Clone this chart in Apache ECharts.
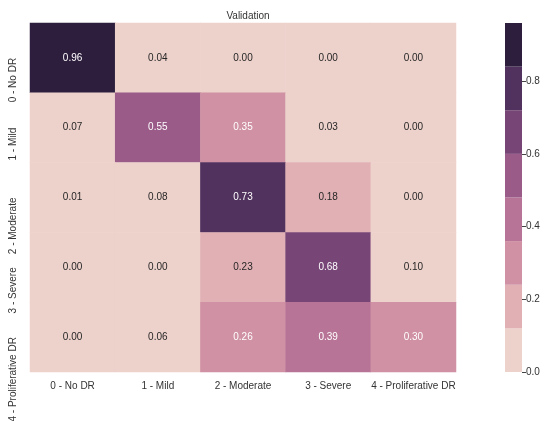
<!DOCTYPE html>
<html>
<head>
<meta charset="utf-8">
<script src="https://cdn.jsdelivr.net/npm/echarts@6/dist/echarts.min.js"></script>
<style>
  html, body { margin: 0; padding: 0; background: #ffffff; }
  #chart { width: 546px; height: 421px; }
</style>
</head>
<body>
<div id="chart"></div>
<script>
// Class names shared by both axes (true label rows, predicted label columns)
const classLabels = ['0 - No DR', '1 - Mild', '2 - Moderate', '3 - Severe', '4 - Proliferative DR'];

// Normalised confusion matrix, one array per true class
const rowNoDR          = [0.96, 0.04, 0.00, 0.00, 0.00];
const rowMild          = [0.07, 0.55, 0.35, 0.03, 0.00];
const rowModerate      = [0.01, 0.08, 0.73, 0.18, 0.00];
const rowSevere        = [0.00, 0.00, 0.23, 0.68, 0.10];
const rowProliferative = [0.00, 0.06, 0.26, 0.39, 0.30];
const matrixRows = [rowNoDR, rowMild, rowModerate, rowSevere, rowProliferative];

// Colour scale: 8 discrete cubehelix steps between vmin and vmax
const palette = ['#edd1cb', '#e1b0b4', '#cf91a3', '#b87496', '#9a5b88', '#774576', '#51315e', '#2d1e3e'];
const vmin = 0;
const vmax = 0.96;
const colorbarTicks = [0, 0.2, 0.4, 0.6, 0.8];

const FONT = "'Liberation Sans', Arial, sans-serif";
const binSize = (vmax - vmin) / palette.length;

function binIndex(v) {
  return Math.min(palette.length - 1, Math.max(0, Math.floor((v - vmin) / binSize + 1e-9)));
}
// Dark text on light cells, white text on darker ones (relative luminance test)
function textColorFor(hex) {
  const c = [1, 3, 5].map(i => parseInt(hex.substr(i, 2), 16) / 255)
    .map(u => u <= 0.03928 ? u / 12.92 : Math.pow((u + 0.055) / 1.055, 2.4));
  const lum = 0.2126 * c[0] + 0.7152 * c[1] + 0.0722 * c[2];
  return lum > 0.408 ? '#262626' : '#ffffff';
}

const heatData = [];
matrixRows.forEach((row, i) => {
  row.forEach((v, j) => {
    heatData.push({
      value: [j, i, v],
      label: { color: textColorFor(palette[binIndex(v)]) }
    });
  });
});

const pieces = palette.map((c, k) => {
  const p = { gte: vmin + k * binSize - 1e-9, color: c };
  if (k < palette.length - 1) p.lt = vmin + (k + 1) * binSize - 1e-9;
  return p;
});

const colorbarSeries = palette.map(c => ({
  type: 'bar',
  xAxisIndex: 1,
  yAxisIndex: 1,
  stack: 'colorbar',
  barWidth: '100%',
  silent: true,
  data: [binSize],
  itemStyle: { color: c }
}));

const chart = echarts.init(document.getElementById('chart'), null, { renderer: 'canvas' });
chart.setOption({
  animation: false,
  backgroundColor: '#ffffff',
  textStyle: { fontFamily: FONT },
  title: {
    text: 'Validation',
    left: 243,
    top: 6,
    textAlign: 'center',
    textStyle: { fontFamily: FONT, fontSize: 10, fontWeight: 'normal', color: '#333333' }
  },
  grid: [
    { left: 30, top: 23, width: 426, height: 349, outerBoundsMode: 'none', containLabel: false },
    { left: 505, top: 23, width: 17, height: 349, outerBoundsMode: 'none', containLabel: false }
  ],
  xAxis: [
    {
      type: 'category',
      gridIndex: 0,
      data: classLabels,
      axisLine: { show: false },
      axisTick: { show: false },
      splitLine: { show: false },
      axisLabel: {
        fontFamily: FONT, fontSize: 10, color: '#333333', margin: 9,
        interval: 0, hideOverlap: false
      }
    },
    {
      type: 'category',
      gridIndex: 1,
      data: ['scale'],
      show: false
    }
  ],
  yAxis: [
    {
      type: 'category',
      gridIndex: 0,
      data: classLabels,
      inverse: true,
      axisLine: { show: false },
      axisTick: { show: false },
      splitLine: { show: false },
      axisLabel: {
        fontFamily: FONT, fontSize: 10, color: '#333333', rotate: 90, margin: 12,
        align: 'right', interval: 0, hideOverlap: false
      }
    },
    {
      type: 'value',
      gridIndex: 1,
      position: 'right',
      min: vmin,
      max: vmax,
      axisLine: { show: false },
      splitLine: { show: false },
      axisTick: { show: true, length: 4, lineStyle: { color: '#444444' }, customValues: colorbarTicks },
      axisLabel: {
        fontFamily: FONT, fontSize: 10, color: '#333333', margin: 4,
        customValues: colorbarTicks,
        formatter: v => Number(v).toFixed(1)
      }
    }
  ],
  visualMap: {
    type: 'piecewise',
    show: false,
    seriesIndex: 0,
    dimension: 2,
    pieces: pieces
  },
  series: [
    {
      type: 'heatmap',
      xAxisIndex: 0,
      yAxisIndex: 0,
      data: heatData,
      silent: true,
      label: {
        show: true,
        fontFamily: FONT,
        fontSize: 10,
        formatter: p => p.value[2].toFixed(2)
      },
      emphasis: { disabled: true }
    }
  ].concat(colorbarSeries)
});
</script>
</body>
</html>
